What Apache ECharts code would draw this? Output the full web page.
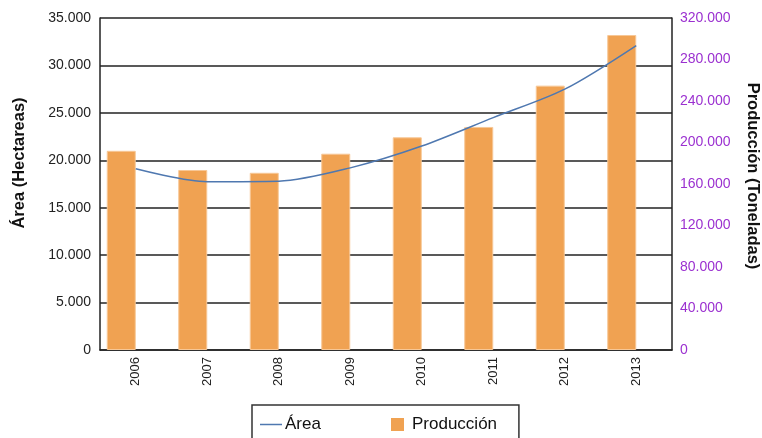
<!DOCTYPE html>
<html>
<head>
<meta charset="utf-8">
<script src="https://cdn.jsdelivr.net/npm/echarts@6/dist/echarts.min.js"></script>
<style>
  html, body { margin: 0; padding: 0; background: #fff; }
  #chart { width: 762px; height: 438px; }
</style>
</head>
<body>
<div id="chart"></div>
<script>
// Years on the category axis
const years = ['2006', '2007', '2008', '2009', '2010', '2011', '2012', '2013'];
// Planted area, hectares (left axis)
const area = [19100, 17750, 17800, 19200, 21500, 24500, 27500, 32100];
// Production, tonnes (right axis)
const produccion = [192000, 173500, 170800, 189200, 205000, 215000, 254800, 303600];
// Axis ranges
const areaTicks = { min: 0, max: 35000, interval: 5000 };
const prodTicks = { min: 0, max: 320000, interval: 40000 };

const FONT = 'Liberation Sans, Arial, sans-serif';
const INK = '#222';
const PURPLE = '#9B30D0';

// Thousands with a dot, Spanish style
const fmt = v => String(v).replace(/\B(?=(\d{3})+(?!\d))/g, '.');

const chart = echarts.init(document.getElementById('chart'), null, { renderer: 'canvas' });

chart.setOption({
  animation: false,
  backgroundColor: '#fff',
  textStyle: { fontFamily: FONT },
  grid: { left: 100, right: 90, top: 18, bottom: 88, containLabel: false, outerBoundsMode: 'none' },
  legend: [
    {
      data: [{ name: 'Área', icon: 'rect' }],
      left: 252, top: 405,
      selectedMode: false,
      itemWidth: 22, itemHeight: 1.5,
      itemStyle: { borderWidth: 0 },
      padding: [11, 198, 30, 8],
      borderColor: '#333', borderWidth: 1.5,
      textStyle: { fontFamily: FONT, fontSize: 17, color: '#111', padding: [0, 0, 0, -2] }
    },
    {
      data: [{ name: 'Producción', icon: 'rect' }],
      left: 391, top: 405,
      selectedMode: false,
      itemWidth: 13, itemHeight: 13,
      itemStyle: { borderWidth: 0 },
      padding: [11, 0, 0, 0],
      textStyle: { fontFamily: FONT, fontSize: 17, color: '#111', padding: [0, 0, 0, 3] }
    }
  ],
  xAxis: {
    type: 'category',
    data: years,
    boundaryGap: true,
    axisLine: { show: true, lineStyle: { color: INK, width: 1.5 } },
    axisTick: { show: false },
    axisLabel: { rotate: 90, fontSize: 13, color: INK, margin: 7, fontFamily: FONT },
    splitLine: { show: false }
  },
  yAxis: [
    {
      type: 'value',
      min: areaTicks.min, max: areaTicks.max, interval: areaTicks.interval,
      name: 'Área (Hectareas)',
      nameLocation: 'middle',
      nameGap: 72,
      nameTextStyle: { fontSize: 16.5, fontWeight: 'bold', color: '#111', fontFamily: FONT, padding: [0, 0, 0, 42] },
      axisLine: { show: true, lineStyle: { color: INK, width: 1.5 } },
      axisTick: { show: false },
      axisLabel: { fontSize: 14, color: INK, margin: 9, formatter: fmt, fontFamily: FONT },
      splitLine: { show: true, lineStyle: { color: INK, width: 1.5 } }
    },
    {
      type: 'value',
      position: 'right',
      min: prodTicks.min, max: prodTicks.max, interval: prodTicks.interval,
      name: 'Producción (Toneladas)',
      nameLocation: 'middle',
      nameRotate: -90,
      nameGap: 72,
      nameTextStyle: { fontSize: 16.5, fontWeight: 'bold', color: '#111', fontFamily: FONT, padding: [0, 16, 0, 0] },
      axisLine: { show: true, lineStyle: { color: INK, width: 1.5 } },
      axisTick: { show: false },
      axisLabel: { fontSize: 14, color: PURPLE, margin: 8, formatter: fmt, fontFamily: FONT },
      splitLine: { show: false }
    }
  ],
  series: [
    {
      name: 'Producción',
      type: 'bar',
      yAxisIndex: 1,
      data: produccion,
      barWidth: 29,
      barGap: '0%',
      itemStyle: { color: '#F0A252', borderColor: '#F7C796', borderWidth: 1 },
      z: 2
    },
    {
      // empty slot beside each bar, keeps bars left of the category centre
      name: 'hueco',
      type: 'bar',
      yAxisIndex: 1,
      data: years.map(() => '-'),
      barWidth: 29,
      barGap: '0%',
      silent: true
    },
    {
      name: 'Área',
      type: 'line',
      yAxisIndex: 0,
      data: area,
      smooth: 0.3,
      showSymbol: false,
      lineStyle: { color: '#4F78B0', width: 1.5 },
      itemStyle: { color: '#4F78B0' },
      z: 5
    }
  ]
});
</script>
</body>
</html>
